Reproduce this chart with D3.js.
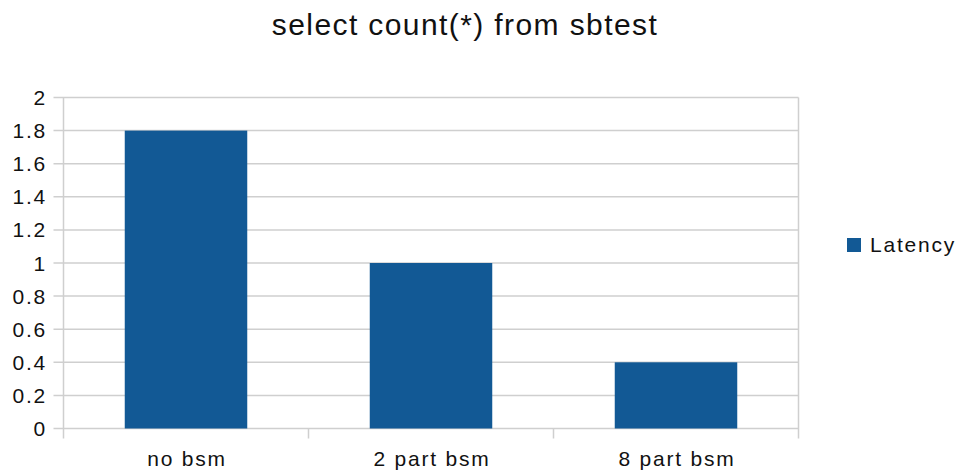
<!DOCTYPE html>
<html><head><meta charset="utf-8">
<script src="https://cdn.jsdelivr.net/npm/d3@7"></script>
<style>body{margin:0;background:#fff;font-family:"Liberation Sans",Arial,sans-serif;}</style>
</head><body><svg id="c" width="961" height="474"></svg>
<script>
const categories = ["no bsm", "2 part bsm", "8 part bsm"];
const latency = [1.8, 1.0, 0.4];
const yTicks = [0, 0.2, 0.4, 0.6, 0.8, 1, 1.2, 1.4, 1.6, 1.8, 2];
const seriesName = "Latency";
const title = "select count(*) from sbtest";

const svg = d3.select("#c");
const L = 63.5, R = 798.5, T = 97.5, B = 428.5;
const x = d3.scaleBand().domain(categories).range([L, R]).paddingInner(0.5).paddingOuter(0.25);
const y = d3.scaleLinear().domain([0, 2]).range([B, T]);
const grid = "#cfcfcf";
const ink = "#111";

svg.append("text").attr("x", 465).attr("y", 35).attr("text-anchor", "middle")
  .attr("font-size", 30).attr("letter-spacing", 1.4).attr("fill", ink).text(title);

// gridlines
svg.append("g").selectAll("line").data(yTicks).join("line")
  .attr("x1", L - 10).attr("x2", R).attr("y1", d => y(d)).attr("y2", d => y(d))
  .attr("stroke", grid).attr("stroke-width", 1.5);
// left axis & right border
svg.append("line").attr("x1", L).attr("x2", L).attr("y1", T).attr("y2", B + 10).attr("stroke", grid).attr("stroke-width", 1.5);
svg.append("line").attr("x1", R).attr("x2", R).attr("y1", T).attr("y2", B + 10).attr("stroke", grid).attr("stroke-width", 1.5);
// x band tick marks
svg.append("g").selectAll("line").data(d3.range(1, categories.length)).join("line")
  .attr("x1", i => L + i * (R - L) / categories.length).attr("x2", i => L + i * (R - L) / categories.length)
  .attr("y1", B).attr("y2", B + 10).attr("stroke", grid).attr("stroke-width", 1.5);

// y labels
svg.append("g").selectAll("text").data(yTicks).join("text")
  .attr("x", 47).attr("y", d => y(d) + 7.5).attr("text-anchor", "end")
  .attr("font-size", 21).attr("letter-spacing", 1.8).attr("fill", ink).text(d => d3.format("~g")(d));

// bars
svg.append("g").selectAll("rect").data(latency).join("rect")
  .attr("x", (d, i) => x(categories[i])).attr("width", x.bandwidth())
  .attr("y", d => y(d)).attr("height", d => y(0) - y(d))
  .attr("fill", "#125995");

// x labels
svg.append("g").selectAll("text").data(categories).join("text")
  .attr("x", d => x(d) + x.bandwidth() / 2 + 1).attr("y", 466).attr("text-anchor", "middle")
  .attr("font-size", 21).attr("letter-spacing", 1.8).attr("fill", ink).text(d => d);

// legend
svg.append("rect").attr("x", 847).attr("y", 238).attr("width", 14).attr("height", 14).attr("fill", "#125995");
svg.append("text").attr("x", 870).attr("y", 252).attr("font-size", 21).attr("letter-spacing", 1.8).attr("fill", ink).text(seriesName);
</script></body></html>
